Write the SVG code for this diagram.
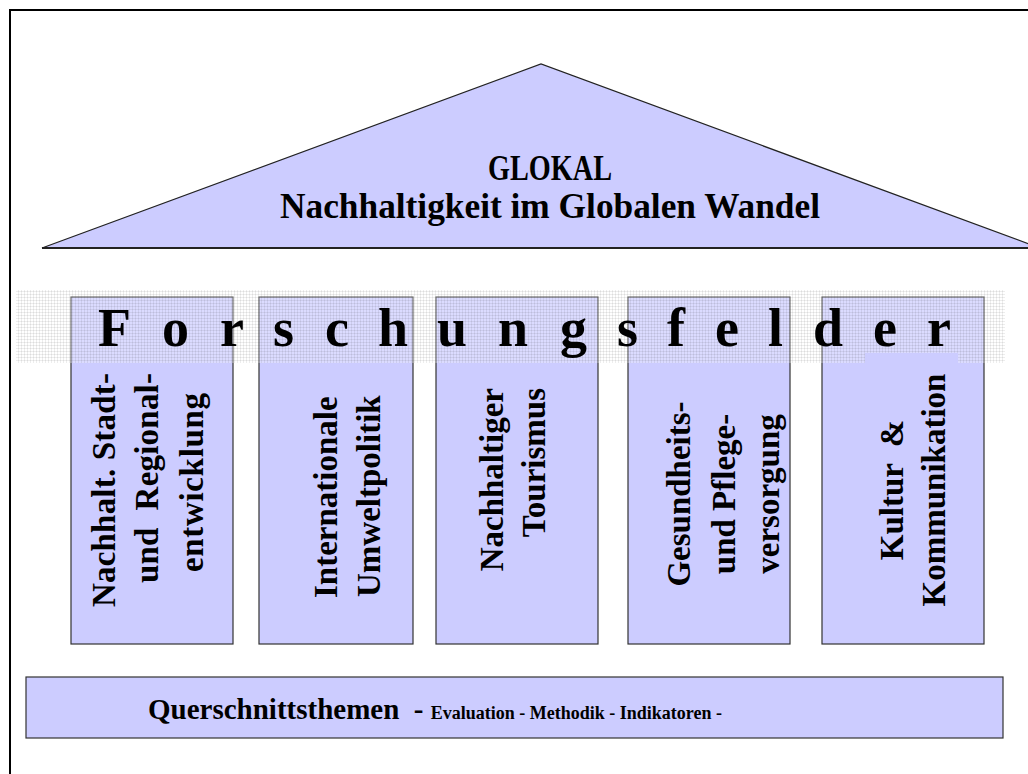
<svg xmlns="http://www.w3.org/2000/svg" width="1028" height="774" viewBox="0 0 1028 774">
<defs>
<style>
.t{font-family:"Liberation Serif","Times New Roman",serif;font-weight:bold;fill:#000}
.pt{font-size:33px}
.box{fill:#ccccff;stroke:#333;stroke-width:1.2}
</style>
<pattern id="grid" width="3" height="3" patternUnits="userSpaceOnUse">
<rect width="3" height="3" fill="#ffffff" fill-opacity="0.3"/>
<path d="M0 0.5H3M0.5 0V3" stroke="#000" stroke-opacity="0.07" stroke-width="1"/>
</pattern>
</defs>
<rect width="1028" height="774" fill="#fff"/>
<rect x="10" y="10" width="1040" height="800" fill="none" stroke="#000" stroke-width="2"/>

<g id="roof">
<polygon points="42,248 541,64 1040,248" fill="#ccccff" stroke="#222" stroke-width="1.2"/>
<line x1="42" y1="248" x2="1028" y2="248" stroke="#222" stroke-width="2"/>
<text class="t" x="550" y="180" font-size="36" text-anchor="middle" textLength="124" lengthAdjust="spacingAndGlyphs">GLOKAL</text>
<text class="t" x="550" y="218" font-size="36" text-anchor="middle" textLength="540" lengthAdjust="spacingAndGlyphs">Nachhaltigkeit im Globalen Wandel</text>
</g>

<g id="pillar1">
<rect class="box" x="71" y="297" width="162" height="347"/>
<text class="t pt" transform="translate(115,607) rotate(-90)" textLength="234">Nachhalt. Stadt-</text>
<text class="t pt" transform="translate(158,583) rotate(-90)" xml:space="preserve" textLength="210">und  Regional-</text>
<text class="t pt" transform="translate(203,572) rotate(-90)" textLength="179">entwicklung</text>
</g>
<g id="pillar2">
<rect class="box" x="259" y="297" width="154" height="347"/>
<text class="t pt" transform="translate(337,598) rotate(-90)">Internationale</text>
<text class="t pt" transform="translate(380,597) rotate(-90)">Umweltpolitik</text>
</g>
<g id="pillar3">
<rect class="box" x="436" y="297" width="162" height="347"/>
<text class="t pt" transform="translate(503,388) rotate(-90)" text-anchor="end">Nachhaltiger</text>
<text class="t pt" transform="translate(545,388) rotate(-90)" text-anchor="end">Tourismus</text>
</g>
<g id="pillar4">
<rect class="box" x="628" y="297" width="162" height="347"/>
<text class="t pt" transform="translate(690,494) rotate(-90)" text-anchor="middle">Gesundheits-</text>
<text class="t pt" transform="translate(735,494) rotate(-90)" text-anchor="middle">und Pflege-</text>
<text class="t pt" transform="translate(779,494) rotate(-90)" text-anchor="middle">versorgung</text>
</g>
<g id="pillar5">
<rect class="box" x="822" y="297" width="162" height="347"/>
<text class="t pt" transform="translate(903,490) rotate(-90)" text-anchor="middle" xml:space="preserve">Kultur  &amp;</text>
<text class="t pt" transform="translate(945,490) rotate(-90)" text-anchor="middle">Kommunikation</text>
</g>

<g id="band">
<rect x="16" y="290" width="989" height="73" fill="url(#grid)"/>
<rect x="865" y="353" width="93" height="10" fill="#ccccff"/>
<text class="t" y="346" font-size="54" x="98 130 162 190 220 246 273 299 325 351 378 408 437 468 498 529 560 588 617 642 667 691 715 742 768 790 813 843 873 900 927">F o r s c h u n g s f e l d e r</text>
</g>

<g id="base">
<rect class="box" x="26" y="677" width="977" height="61"/>
<text class="t" x="148" y="719" xml:space="preserve"><tspan font-size="29">Querschnittsthemen  - </tspan><tspan font-size="18">Evaluation - Methodik - Indikatoren -</tspan></text>
</g>

<g id="connectors"/>
</svg>
